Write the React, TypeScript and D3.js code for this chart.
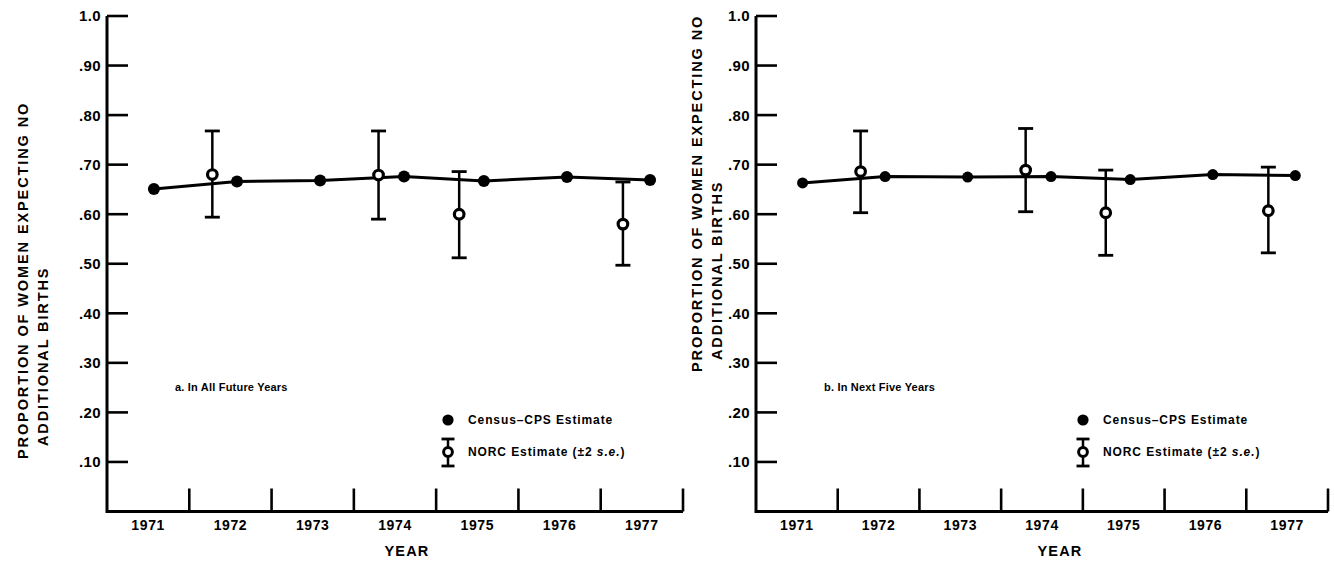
import React from 'react';
import * as d3 from 'd3';

// Census-CPS estimates (mid-year surveys)
const censusYears = [1971.57, 1972.58, 1973.59, 1974.61, 1975.58, 1976.59, 1977.6];
const censusAllFuture = [0.651, 0.666, 0.668, 0.676, 0.667, 0.675, 0.669];
const censusNextFive = [0.663, 0.676, 0.675, 0.676, 0.67, 0.68, 0.678];

// NORC estimates with +/- 2 s.e.
const norcYears = [1972.28, 1974.3, 1975.28, 1977.27];
const norcAllFuture = [0.68, 0.679, 0.6, 0.58];
const norcAllFutureLow = [0.594, 0.59, 0.512, 0.497];
const norcAllFutureHigh = [0.768, 0.768, 0.686, 0.665];
const norcNextFive = [0.686, 0.689, 0.603, 0.607];
const norcNextFiveLow = [0.603, 0.605, 0.517, 0.522];
const norcNextFiveHigh = [0.768, 0.773, 0.689, 0.695];

const yearLabels = ['1971', '1972', '1973', '1974', '1975', '1976', '1977'];
const yTicks = [0.1, 0.2, 0.3, 0.4, 0.5, 0.6, 0.7, 0.8, 0.9, 1.0];
const yTickLabels = ['.10', '.20', '.30', '.40', '.50', '.60', '.70', '.80', '.90', '1.0'];

const FONT = '"Liberation Sans", Arial, Helvetica, sans-serif';

type PanelProps = {
  x0: number;
  x1: number;
  title: string;
  census: number[];
  norc: number[];
  norcLow: number[];
  norcHigh: number[];
  titleX: number;
  titleStart1: number;
  titleStart2: number;
  legendX: number;
  yearShift: number;
  dotR: number;
};

const Panel = (p: PanelProps) => {
  const x = d3.scaleLinear().domain([1971, 1978]).range([p.x0, p.x1]);
  const y = d3.scaleLinear().domain([0, 1]).range([511.5, 16]);

  const line = d3.line<number>()
    .x((d, i) => x(censusYears[i]))
    .y(d => y(d));

  const boundaries = d3.range(1972, 1979);
  const cap = 7.5;

  return (
    <g fontFamily={FONT} fontWeight="bold" fill="#000">
      {/* y axis title, two lines */}
      <text transform={`translate(${p.titleX},${p.titleStart1}) rotate(-90)`} fontSize={14.5} letterSpacing={1.9} dy="0.35em">
        PROPORTION OF WOMEN EXPECTING NO
      </text>
      <text transform={`translate(${p.titleX + 20},${p.titleStart2}) rotate(-90)`} fontSize={14.5} letterSpacing={1.9} dy="0.35em">
        ADDITIONAL BIRTHS
      </text>

      {/* axes */}
      <path d={`M${x(1971)},${y(1)}V${y(0)}H${x(1978)}`} fill="none" stroke="#000" strokeWidth={3} />
      {yTicks.map((t, i) => (
        <g key={t}>
          <line x1={x(1971)} x2={x(1971) + 21} y1={y(t)} y2={y(t)} stroke="#000" strokeWidth={2.6} />
          <text x={x(1971) - 6} y={y(t)} dy="0.36em" textAnchor="end" fontSize={15} letterSpacing={0.4}>
            {yTickLabels[i]}
          </text>
        </g>
      ))}
      {boundaries.map(b => (
        <line key={b} x1={x(b)} x2={x(b)} y1={y(0)} y2={y(0) - 23} stroke="#000" strokeWidth={2.6} />
      ))}
      {yearLabels.map((l, i) => (
        <text key={l} x={x(1971 + i + 0.5)} y={525} dy="0.36em" textAnchor="middle" fontSize={14} letterSpacing={0.6}>
          {l}
        </text>
      ))}
      <text x={x(1974.5) + p.yearShift} y={551} dy="0.36em" textAnchor="middle" fontSize={14.5} letterSpacing={1.2}>
        YEAR
      </text>

      {/* census line and points */}
      <path d={line(p.census) || ''} fill="none" stroke="#000" strokeWidth={3} />
      {p.census.map((v, i) => (
        <circle key={i} cx={x(censusYears[i])} cy={y(v)} r={p.dotR} fill="#000" />
      ))}

      {/* NORC estimates */}
      {p.norc.map((v, i) => {
        const cx = x(norcYears[i]);
        return (
          <g key={i}>
            <line x1={cx} x2={cx} y1={y(p.norcHigh[i])} y2={y(p.norcLow[i])} stroke="#000" strokeWidth={2.5} />
            <line x1={cx - cap} x2={cx + cap} y1={y(p.norcHigh[i])} y2={y(p.norcHigh[i])} stroke="#000" strokeWidth={2.8} />
            <line x1={cx - cap} x2={cx + cap} y1={y(p.norcLow[i])} y2={y(p.norcLow[i])} stroke="#000" strokeWidth={2.8} />
            <circle cx={cx} cy={y(v)} r={4.8} fill="#fff" stroke="#000" strokeWidth={3.2} />
          </g>
        );
      })}

      {/* panel label */}
      <text x={x(1971) + 68} y={387} dy="0.35em" fontSize={11} letterSpacing={0.2}>
        {p.title}
      </text>

      {/* legend */}
      <circle cx={p.legendX} cy={420} r={5.6} fill="#000" />
      <text x={p.legendX + 20} y={420} dy="0.35em" fontSize={12} letterSpacing={0.9}>
        Census–CPS Estimate
      </text>
      <line x1={p.legendX} x2={p.legendX} y1={439} y2={466} stroke="#000" strokeWidth={2.5} />
      <line x1={p.legendX - 6.5} x2={p.legendX + 6.5} y1={439} y2={439} stroke="#000" strokeWidth={2.8} />
      <line x1={p.legendX - 6.5} x2={p.legendX + 6.5} y1={466} y2={466} stroke="#000" strokeWidth={2.8} />
      <circle cx={p.legendX} cy={452} r={4.4} fill="#fff" stroke="#000" strokeWidth={3} />
      <text x={p.legendX + 20} y={452} dy="0.35em" fontSize={12} letterSpacing={0.9}>
        NORC Estimate (±2 <tspan fontStyle="italic">s.e.</tspan>)
      </text>
    </g>
  );
};

export default function App() {
  return (
    <svg width={1334} height={564} style={{ position: 'absolute', left: 0, top: 0, background: '#fff' }}>
      <rect width={1334} height={564} fill="#fff" />
      <Panel
        x0={107}
        x1={683}
        title="a.  In All Future Years"
        census={censusAllFuture}
        norc={norcAllFuture}
        norcLow={norcAllFutureLow}
        norcHigh={norcAllFutureHigh}
        titleX={23}
        titleStart1={459}
        titleStart2={446}
        legendX={448}
        yearShift={12}
        dotR={6}
      />
      <Panel
        x0={756}
        x1={1328}
        title="b.  In Next Five Years"
        census={censusNextFive}
        norc={norcNextFive}
        norcLow={norcNextFiveLow}
        norcHigh={norcNextFiveHigh}
        titleX={697}
        titleStart1={372}
        titleStart2={360}
        legendX={1083}
        yearShift={18}
        dotR={5.5}
      />
    </svg>
  );
}
